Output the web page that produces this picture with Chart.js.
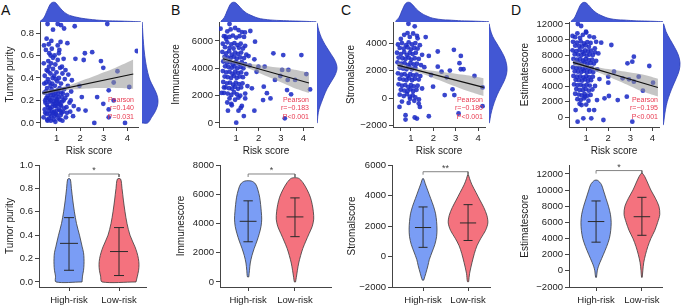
<!DOCTYPE html>
<html>
<head>
<meta charset="utf-8">
<script src="https://cdn.jsdelivr.net/npm/chart.js@4.4.0/dist/chart.umd.min.js"></script>
<style>
  html, body { margin: 0; padding: 0; background: #fff; }
  #fig { position: relative; width: 681px; height: 308px; overflow: hidden; font-family: "Liberation Sans", Arial, sans-serif; }
  #fig canvas { position: absolute; }
  .tag { position: absolute; font-size: 14px; line-height: 14px; color: #111; }
</style>
</head>
<body>
<div id="fig"></div>
<script>
// ---- data ----
const panelTags = ['A', 'B', 'C', 'D'];
const scoreNames = ['Tumor purity', 'Immunescore', 'Stromalscore', 'Estimatescore'];
const groups = ['High-risk', 'Low-risk'];
const pearsonR = ['r=0.140', 'r=\u22120.183', 'r=\u22120.180', 'r=\u22120.195'];
const pearsonP = ['P=0.031', 'P<0.001', 'P<0.001', 'P<0.001'];

const xTicks = [1, 2, 3, 4];
const scatterTicks = [
  [0, 0.2, 0.4, 0.6, 0.8],
  [0, 2000, 4000, 6000],
  [-2000, 0, 2000, 4000],
  [0, 2000, 4000, 6000, 8000, 10000, 12000]
];
const violinTicks = [
  [0, 0.2, 0.4, 0.6, 0.8, 1.0],
  [0, 2000, 4000, 6000, 8000],
  [-2000, 0, 2000, 4000, 6000],
  [-2000, 0, 2000, 4000, 6000, 8000, 10000, 12000]
];

// risk score vs score, [x, y]
const ptsA = [
  [0.45,0.05],[0.5,0.12],[0.52,0.2],[0.55,0.28],[0.48,0.35],[0.5,0.42],[0.46,0.53],[0.58,0.08],[0.6,0.16],[0.62,0.24],
  [0.6,0.31],[0.63,0.39],[0.58,0.47],[0.65,0.55],[0.62,0.02],[0.68,0.11],[0.7,0.19],[0.72,0.27],[0.7,0.36],[0.74,0.44],
  [0.68,0.5],[0.75,0.6],[0.78,0.06],[0.8,0.14],[0.82,0.22],[0.79,0.3],[0.83,0.4],[0.85,0.48],[0.8,0.66],[0.88,0.03],
  [0.9,0.1],[0.92,0.17],[0.88,0.25],[0.93,0.33],[0.9,0.42],[0.95,0.52],[0.92,0.6],[0.97,0.08],[1.0,0.15],[1.02,0.21],
  [0.98,0.28],[1.03,0.37],[1.0,0.45],[1.05,0.56],[1.08,0.04],[1.1,0.12],[1.12,0.19],[1.07,0.26],[1.13,0.31],[1.1,0.4],
  [1.15,0.49],[1.12,0.65],[1.18,0.07],[1.2,0.15],[1.22,0.23],[1.19,0.35],[1.25,0.44],[1.28,0.1],[1.3,0.2],[1.32,0.3],
  [1.35,0.39],[1.3,0.57],[1.4,0.05],[1.42,0.14],[1.45,0.25],[1.48,0.33],[1.5,0.43],[1.55,0.18],[1.58,0.1],[1.62,0.28],
  [1.65,0.38],[1.7,0.06],[0.55,0.65],[0.67,0.7],[0.85,0.58],[1.17,0.72],[0.76,0.02],[0.95,0.01],[1.25,0.02],[0.53,0.18],
  [0.73,0.13],[0.86,0.09],[0.98,0.2],[1.05,0.29],[1.16,0.11],[0.66,0.22],[0.82,0.35],[0.94,0.15],[1.08,0.17],[0.6,0.03],
  [0.71,0.08],[0.89,0.19],[1.02,0.07],[1.2,0.27],
  [0.52,0.09],[0.57,0.22],[0.64,0.14],[0.69,0.04],[0.74,0.2],[0.77,0.25],[0.81,0.1],[0.84,0.17],[0.87,0.28],[0.91,0.06],
  [0.96,0.24],[1.01,0.11],[1.04,0.18],[1.09,0.23],[1.14,0.03],[1.17,0.16],[1.21,0.09],[1.24,0.19],[1.27,0.26],[1.33,0.13],
  [1.37,0.22],[1.44,0.09],[0.56,0.36],[0.64,0.46],[0.77,0.53],[0.96,0.39],[1.23,0.5],[1.38,0.47],[0.49,0.27],[0.75,0.33],
  [0.62,0.88],[1.05,0.88],[1.19,0.87],[1.77,0.86],[3.15,0.88],[0.85,0.83],[1.32,0.84],[0.58,0.75],[0.78,0.73],[1.46,0.71],
  [0.47,0.69],[1.05,0.69],[0.69,0.62],[1.1,0.62],[2.2,0.62],[2.51,0.63],[4.4,0.64],[1.8,0.57],[2.15,0.56],[2.88,0.55],
  [2.98,0.49],[3.58,0.46],[3.42,0.36],[3.21,0.29],[4.08,0.32],[1.97,0.33],[2.07,0.23],[2.72,0.23],[2.23,0.11],[2.6,0.0],
  [2.98,0.17],[3.21,0.12],[3.42,0.2],[3.9,0.0],[3.21,0.05],[1.93,0.12],[1.6,0.2],[1.73,0.15]
];
const ptsB = [
  [0.75,6850],[0.95,6950],[1.1,6800],[0.6,6700],[1.25,6650],[0.45,6350],[0.7,6300],[0.85,6400],[1.0,6250],[1.15,6350],
  [1.35,6300],[0.55,6150],[0.4,5800],[0.6,5900],[0.78,5750],[0.92,5850],[1.05,5700],[1.2,5800],[1.4,5650],[0.5,5550],
  [0.7,5500],[0.88,5450],[1.12,5500],[1.3,5450],[0.38,5200],[0.55,5100],[0.68,5250],[0.8,5000],[0.95,5150],[1.08,5050],
  [1.22,5150],[1.45,5000],[0.48,4850],[0.62,4800],[0.75,4750],[0.9,4850],[1.02,4700],[1.18,4800],[1.35,4750],[1.55,4900],
  [0.42,4500],[0.58,4400],[0.72,4450],[0.85,4300],[0.97,4450],[1.1,4350],[1.25,4450],[1.4,4300],[0.5,4150],[0.65,4100],
  [0.8,4050],[0.92,4150],[1.05,4000],[1.2,4100],[1.32,4000],[1.6,4200],[0.4,3800],[0.55,3700],[0.7,3750],[0.83,3600],
  [0.95,3750],[1.08,3650],[1.22,3700],[1.45,3600],[0.48,3400],[0.62,3350],[0.77,3300],[0.9,3450],[1.02,3300],[1.15,3400],
  [1.3,3350],[0.42,3000],[0.58,2900],[0.72,2950],[0.86,2800],[0.98,2950],[1.12,2850],[1.28,2900],[0.52,2600],[0.68,2550],
  [0.82,2500],[0.95,2650],[1.08,2500],[1.22,2600],[1.5,2700],[0.45,2200],[0.62,2150],[0.78,2050],[0.9,2250],[1.03,2100],
  [1.18,2000],[1.4,2150],[0.7,1800],[0.95,1700],[1.1,1850],[0.8,1300],[1.25,1250],[0.6,1500],
  [1.0,20],[0.63,900],[1.1,900],[1.2,1100],[1.34,510],[1.81,900],[1.7,2540],[1.4,1800],[2.2,1680],[2.23,2660],
  [2.53,1800],[1.91,3750],[1.84,5950],[1.39,6630],[1.63,6730],[1.81,4660],[1.99,4120],[2.27,4120],[2.66,5100],[3.1,4970],
  [3.91,4970],[3.05,3880],[3.33,3880],[4.13,3580],[4.3,2460],[3.63,3150],[3.3,3150],[2.73,3150],[2.97,3440],[3.27,2410],
  [3.45,2100],[3.17,340],[2.37,2180],[0.53,6310],[0.7,7240],[0.3,6900],[0.35,2200],[0.45,2600],[0.78,1400]
];
const ptsC = [
  [0.7,4600],[0.95,4450],[1.1,4700],[0.55,4300],[1.3,4350],[0.42,3900],[0.6,4000],[0.78,3850],[0.9,4050],[1.05,3900],
  [1.2,4000],[1.4,3850],[0.5,3650],[0.68,3600],[0.85,3700],[1.0,3550],[1.15,3650],[1.3,3600],[0.38,3300],[0.55,3200],
  [0.7,3350],[0.82,3150],[0.95,3300],[1.08,3200],[1.22,3300],[1.5,3150],[0.45,2950],[0.62,2900],[0.76,2850],[0.9,2950],
  [1.02,2800],[1.17,2900],[1.35,2850],[0.4,2600],[0.57,2500],[0.72,2550],[0.86,2400],[0.98,2550],[1.12,2450],[1.27,2500],
  [1.45,2400],[0.5,2200],[0.65,2150],[0.8,2100],[0.93,2250],[1.05,2100],[1.2,2200],[1.6,2250],[0.42,1800],[0.58,1700],
  [0.72,1750],[0.85,1600],[0.97,1750],[1.1,1650],[1.25,1700],[1.42,1600],[0.5,1400],[0.66,1350],[0.8,1300],[0.92,1450],
  [1.05,1300],[1.18,1400],[1.35,1350],[0.45,1000],[0.6,900],[0.75,950],[0.88,800],[1.0,950],[1.13,850],[1.3,900],
  [0.55,600],[0.7,550],[0.85,500],[0.98,650],[1.1,500],[1.25,600],[1.5,700],[0.5,250],[0.68,150],[0.82,300],
  [0.95,100],[1.08,200],[1.2,50],[0.6,-250],[0.9,-350],[1.15,-200],[1.35,-400],
  [0.89,5410],[1.17,5220],[0.85,4730],[1.27,4530],[1.66,4440],[2.2,3390],[1.8,3070],[2.92,3510],[3.23,3070],[3.17,2540],
  [3.35,2100],[3.23,2100],[2.74,2000],[2.2,2290],[2.37,1920],[1.9,1680],[1.99,830],[2.6,1510],[2.86,640],[2.51,220],
  [2.94,220],[3.84,1610],[4.2,780],[4.2,-585],[3.13,-1120],[0.49,-640],[1.17,-1410],[0.76,-1560],[1.27,-1490],[0.76,-1240],
  [1.4,-640],[1.8,-1320],[1.36,-100],[0.96,-50]
];
const ptsD = [
  [0.6,10800],[0.85,10600],[1.0,10900],[0.5,10300],[1.15,10400],[0.72,10200],[0.4,9700],[0.58,9600],[0.75,9750],[0.9,9500],
  [1.05,9650],[1.2,9550],[1.45,9700],[0.5,9200],[0.68,9150],[0.82,9100],[0.97,9250],[1.12,9050],[0.38,8600],[0.55,8500],
  [0.7,8650],[0.83,8400],[0.95,8600],[1.08,8450],[1.22,8550],[1.4,8350],[0.48,8100],[0.63,8050],[0.78,7950],[0.9,8150],
  [1.02,7900],[1.15,8050],[1.3,8000],[1.55,8200],[0.42,7500],[0.58,7400],[0.72,7450],[0.86,7300],[0.98,7450],[1.12,7350],
  [1.27,7400],[1.45,7250],[0.5,7000],[0.65,6950],[0.8,6900],[0.93,7050],[1.05,6850],[1.2,6950],[1.35,6900],[0.4,6400],
  [0.56,6300],[0.7,6350],[0.84,6200],[0.96,6350],[1.1,6250],[1.25,6300],[1.5,6150],[0.48,5900],[0.63,5850],[0.78,5800],
  [0.9,5950],[1.03,5750],[1.17,5850],[1.32,5800],[0.42,5300],[0.58,5200],[0.73,5250],[0.87,5100],[1.0,5250],[1.13,5150],
  [1.3,5200],[0.52,4800],[0.67,4750],[0.82,4700],[0.95,4850],[1.08,4650],[1.22,4750],[1.6,4900],[0.45,4200],[0.6,4100],
  [0.75,4150],[0.88,4000],[1.02,4150],[1.16,4050],[1.4,4000],[0.55,3600],[0.7,3500],[0.85,3450],[0.98,3600],[1.12,3400],
  [1.28,3550],[0.5,3000],[0.66,2900],[0.8,2800],[0.93,2950],[1.06,2750],[1.2,2850],[0.6,2300],[0.75,2200],[0.9,2400],
  [1.1,2100],[0.7,1700],[1.0,1600],
  [0.62,12000],[0.77,11740],[0.99,11000],[0.38,10450],[1.35,10280],[1.68,9590],[2.14,9290],[1.39,8860],[3.09,7140],[2.87,6930],
  [3.16,7780],[3.86,6580],[2.26,5850],[2.0,5200],[2.0,4430],[2.65,4990],[2.94,4860],[3.16,4560],[3.38,5200],[3.57,3400],
  [4.03,4430],[2.84,2620],[2.43,2190],[1.83,2410],[2.03,2710],[1.49,2190],[1.36,900],[1.13,900],[0.87,-170],[1.23,-170],
  [1.78,-390],[0.61,-600],[3.09,-600],[0.52,900],[0.79,1550],[0.95,2620]
];
const scatterPts = [ptsA, ptsB, ptsC, ptsD];

// linear fit and its confidence band
const fitX = [0.4, 4.25];
const fitY = [[0.265, 0.435], [4700, 2930], [2400, 780], [7050, 3800]];
const bandX = [0.4, 1.0, 1.5, 2.0, 2.5, 3.0, 3.5, 4.25];
const bandLo = [
  [0.245, 0.277, 0.294, 0.301, 0.308, 0.31, 0.312, 0.305],
  [4480, 4294, 4024, 3684, 3334, 2974, 2624, 2190],
  [2180, 2017, 1767, 1466, 1156, 845, 535, 150],
  [6650, 6314, 5822, 5220, 4598, 3975, 3353, 2650]
];
const bandHi = [
  [0.285, 0.307, 0.334, 0.371, 0.408, 0.45, 0.492, 0.565],
  [4920, 4554, 4364, 4244, 4134, 4034, 3924, 3670],
  [2620, 2277, 2107, 1986, 1876, 1765, 1655, 1450],
  [7450, 6774, 6422, 6180, 5958, 5735, 5513, 4950]
];

// marginal densities (relative heights)
const topX = [0.3, 0.45, 0.6, 0.75, 0.9, 1.05, 1.2, 1.4, 1.6, 1.8, 2.0, 2.3, 2.6, 3.0, 3.5, 4.0, 4.4];
const topDens = [
  [0.03, 0.2, 0.6, 0.95, 1.0, 0.82, 0.6, 0.4, 0.3, 0.24, 0.19, 0.14, 0.1, 0.07, 0.05, 0.03, 0.01],
  [0.03, 0.22, 0.62, 0.95, 1.0, 0.86, 0.66, 0.46, 0.34, 0.24, 0.17, 0.12, 0.09, 0.07, 0.05, 0.03, 0.01],
  [0.03, 0.22, 0.62, 0.95, 1.0, 0.86, 0.66, 0.46, 0.33, 0.23, 0.17, 0.12, 0.1, 0.07, 0.05, 0.03, 0.01],
  [0.03, 0.2, 0.58, 0.92, 1.0, 0.88, 0.68, 0.47, 0.34, 0.24, 0.17, 0.12, 0.1, 0.07, 0.05, 0.03, 0.01]
];
const sideY = [
  [0, 0.05, 0.1, 0.15, 0.2, 0.25, 0.3, 0.35, 0.4, 0.5, 0.6, 0.7, 0.8, 0.9],
  [0, 500, 1000, 1500, 2000, 2500, 3000, 3500, 4000, 4500, 5000, 5500, 6000, 6500, 7000, 7300],
  [-1800, -1200, -600, 0, 500, 1000, 1500, 2000, 2500, 3000, 3500, 4000, 4500, 5000, 5400],
  [-1000, 0, 1000, 2000, 3000, 4000, 5000, 6000, 7000, 8000, 9000, 10000, 11000, 12000]
];
const sideDens = [
  [0.35, 0.6, 0.82, 0.96, 1.0, 0.93, 0.78, 0.6, 0.45, 0.28, 0.17, 0.1, 0.05, 0.01],
  [0.01, 0.04, 0.1, 0.22, 0.35, 0.5, 0.7, 0.9, 1.0, 0.92, 0.72, 0.5, 0.3, 0.15, 0.05, 0.01],
  [0.02, 0.1, 0.22, 0.38, 0.55, 0.75, 0.92, 1.0, 0.97, 0.85, 0.65, 0.42, 0.2, 0.07, 0.01],
  [0.02, 0.08, 0.15, 0.25, 0.4, 0.58, 0.78, 0.95, 1.0, 0.9, 0.68, 0.42, 0.18, 0.04]
];

// violins: value levels, relative half-widths, max half-width (category units)
const vioY = [
  [[0, 0.05, 0.1, 0.15, 0.2, 0.25, 0.3, 0.4, 0.5, 0.6, 0.7, 0.8, 0.88],
   [0, 0.05, 0.1, 0.15, 0.2, 0.25, 0.3, 0.4, 0.5, 0.6, 0.7, 0.8, 0.88]],
  [[350, 800, 1300, 1800, 2300, 2800, 3300, 3800, 4300, 4800, 5300, 5800, 6300, 6700, 6900],
   [0, 300, 800, 1300, 1800, 2300, 2800, 3300, 3800, 4300, 4800, 5300, 5800, 6300, 6800, 7100]],
  [[-1550, -1100, -600, -200, 300, 800, 1300, 1800, 2300, 2800, 3300, 3800, 4300, 4800, 5100],
   [-1650, -1100, -400, 200, 700, 1200, 1700, 2200, 2700, 3200, 3700, 4200, 4700, 5100, 5350]],
  [[-800, 0, 500, 1000, 2000, 3000, 4000, 5000, 6000, 7000, 8000, 9000, 10000, 10700, 11200],
   [-800, 0, 1000, 2000, 3000, 4000, 5000, 6000, 7000, 8000, 9000, 10000, 11000, 11700, 12100]]
];
const vioW = [
  [[0.87, 0.9, 0.97, 1.0, 1.0, 0.97, 0.88, 0.7, 0.5, 0.36, 0.25, 0.16, 0.08],
   [0.85, 0.92, 0.98, 1.0, 0.97, 0.9, 0.8, 0.55, 0.4, 0.3, 0.22, 0.15, 0.08]],
  [[0.05, 0.1, 0.16, 0.28, 0.45, 0.65, 0.82, 0.95, 1.0, 0.97, 0.92, 0.85, 0.72, 0.55, 0.25],
   [0.03, 0.07, 0.13, 0.2, 0.3, 0.42, 0.58, 0.75, 0.92, 1.0, 0.98, 0.92, 0.82, 0.65, 0.42, 0.18]],
  [[0.05, 0.2, 0.35, 0.45, 0.65, 0.85, 0.97, 1.0, 0.97, 0.9, 0.75, 0.55, 0.35, 0.15, 0.04],
   [0.03, 0.08, 0.2, 0.32, 0.45, 0.65, 0.88, 1.0, 0.95, 0.8, 0.6, 0.4, 0.2, 0.08, 0.02]],
  [[0.03, 0.08, 0.15, 0.25, 0.48, 0.7, 0.88, 0.97, 1.0, 0.95, 0.82, 0.65, 0.48, 0.35, 0.1],
   [0.02, 0.05, 0.1, 0.2, 0.33, 0.5, 0.72, 0.88, 1.0, 0.95, 0.75, 0.5, 0.3, 0.15, 0.02]]
];
const vioHalf = [[0.3, 0.4], [0.29, 0.4], [0.31, 0.44], [0.33, 0.39]];
const vioMean = [[0.33, 0.26], [4150, 4450], [1900, 2200], [6100, 6700]];
const vioLo = [[0.10, 0.055], [2750, 3100], [600, 1050], [3550, 4400]];
const vioHi = [[0.55, 0.465], [5550, 5750], [3250, 3400], [8650, 9100]];
const bracketY = [0.923, 7385, 5560, 12410];
const bracketStars = ['*', '*', '**', '*'];

// ---- layout (pixels) and axis ranges ----
const geo = [
  { sLeft: 0,   L: 40,  R: 142, xMin: 0.3,  xMax: 4.45, yMin: -0.036, yMax: 0.898, rW: 20, rPeak: 16, pdx: 4,
    vLeft: 0,   vL: 39,  vR: 147, vxMin: 0.4,  vxMax: 2.56, vyMin: -0.043, vyMax: 1.0 },
  { sLeft: 166, L: 219, R: 317, xMin: 0.23, xMax: 4.43, yMin: -293, yMax: 7390, rW: 24, rPeak: 20, pdx: 4,
    vLeft: 171, vL: 220, vR: 332, vxMin: 0.4,  vxMax: 2.79, vyMin: -342, vyMax: 8000 },
  { sLeft: 341, L: 393, R: 489, xMin: 0.2,  xMax: 4.31, yMin: -2100, yMax: 5536, rW: 22, rPeak: 18, pdx: 2,
    vLeft: 342, vL: 392, vR: 491, vxMin: 0.31, vxMax: 2.51, vyMin: -2000, vyMax: 6000 },
  { sLeft: 515, L: 569, R: 663, xMin: 0.22, xMax: 4.3,  yMin: -1290, yMax: 12258, rW: 18, rPeak: 17, pdx: 1,
    vLeft: 515, vL: 569, vR: 663, vxMin: 0.41, vxMax: 2.46, vyMin: -2000, vyMax: 13100 }
];
const SC_TOP = 22, SC_BOTTOM = 127, SC_H = 160;
const VI_TOP = 150, VI_H = 158, VI_AREA_TOP = 165, VI_AREA_BOTTOM = 287;

const dotColor = 'rgba(30, 44, 198, 0.88)';
const densFill = '#4257d4';
const densLine = '#2c3cb4';
const vioColors = ['#7a9df5', '#f4727e'];
const axisColor = '#444';

Chart.defaults.font.family = '"Liberation Sans", Arial, Helvetica, sans-serif';
Chart.defaults.color = '#222';
Chart.defaults.animation = false;

const fig = document.getElementById('fig');

function addCanvas(left, top, w, h, z) {
  const c = document.createElement('canvas');
  c.width = w;
  c.height = h;
  c.style.left = left + 'px';
  c.style.top = top + 'px';
  c.style.width = w + 'px';
  c.style.height = h + 'px';
  c.style.zIndex = z;
  fig.appendChild(c);
  return c;
}

// pin axis box size so chart areas line up between canvases
function fixBox(size) {
  return function(scale) {
    if (scale.isHorizontal()) scale.height = size; else scale.width = size;
    scale.paddingLeft = 0; scale.paddingRight = 0;
    scale.paddingTop = 0; scale.paddingBottom = 0;
  };
}
function useTicks(values) {
  return function(scale) { scale.ticks = values.map(v => ({ value: v })); };
}
function fmt(v) { return v < 0 ? '\u2212' + Math.abs(v) : String(v); }

function axisCfg(min, max, ticks, label, size, tickPad, title, titlePad) {
  return {
    type: 'linear', min: min, max: max,
    afterBuildTicks: useTicks(ticks),
    afterFit: fixBox(size),
    ticks: { autoSkip: false, maxRotation: 0, minRotation: 0, padding: tickPad,
             font: { size: 9.5 }, color: '#222', callback: label },
    grid: { drawOnChartArea: false, drawTicks: true, tickLength: 4, color: axisColor, lineWidth: 1 },
    border: { display: true, color: axisColor, width: 1 },
    title: title ? { display: true, text: title, font: { size: 10 }, color: '#222', padding: titlePad }
                 : { display: false }
  };
}

const hidden = (min, max) => ({ type: 'linear', display: false, min: min, max: max });

const pearsonPlugin = {
  id: 'pearson',
  afterDatasetsDraw(chart, args, opts) {
    const { ctx, chartArea } = chart;
    ctx.save();
    ctx.font = '7px "Liberation Sans", Arial, sans-serif';
    ctx.fillStyle = '#e8384f';
    ctx.textAlign = 'right';
    ctx.textBaseline = 'middle';
    opts.lines.forEach((t, k) => ctx.fillText(t, chartArea.right - opts.dx, chartArea.bottom - 27 + k * 8.5));
    ctx.restore();
  }
};

const starPlugin = {
  id: 'stars',
  afterDatasetsDraw(chart, args, opts) {
    const { ctx, scales } = chart;
    ctx.save();
    ctx.font = '9px "Liberation Sans", Arial, sans-serif';
    ctx.fillStyle = '#444';
    ctx.textAlign = 'center';
    ctx.textBaseline = 'bottom';
    ctx.fillText(opts.text, scales.x.getPixelForValue(1.5), scales.y.getPixelForValue(opts.y) + 1);
    ctx.restore();
  }
};

const baseOpts = {
  responsive: false,
  animation: false,
  events: [],
  plugins: { legend: { display: false }, tooltip: { enabled: false } }
};

function line(data, color, width, extra) {
  return Object.assign({ data: data, showLine: true, borderColor: color, borderWidth: width,
                         pointRadius: 0, fill: false, tension: 0, order: 0 }, extra || {});
}

function drawScatter(i) {
  const g = geo[i];
  const canvas = addCanvas(g.sLeft, 0, g.R - g.sLeft, SC_H, 1);
  const yLabel = i === 0 ? (v => v.toFixed(1)) : fmt;
  new Chart(canvas, {
    type: 'scatter',
    data: {
      datasets: [
        line(fitX.map((x, k) => ({ x: x, y: fitY[i][k] })), '#111', 1.1, { order: 0 }),
        line(bandX.map((x, k) => ({ x: x, y: bandHi[i][k] })), 'rgba(0,0,0,0)', 0,
             { fill: '+1', backgroundColor: 'rgba(150,150,150,0.55)', tension: 0.4, order: 1 }),
        line(bandX.map((x, k) => ({ x: x, y: bandLo[i][k] })), 'rgba(0,0,0,0)', 0, { tension: 0.4, order: 1 }),
        { data: scatterPts[i].map(p => ({ x: p[0], y: p[1] })), pointRadius: 2.4, pointBorderWidth: 0,
          pointBackgroundColor: dotColor, order: 2 }
      ]
    },
    options: Object.assign({}, baseOpts, {
      layout: { padding: { top: SC_TOP, left: 0, right: 0, bottom: 0 } },
      plugins: Object.assign({}, baseOpts.plugins, {
        pearson: { lines: ['Pearson', pearsonR[i], pearsonP[i]], dx: g.pdx }
      }),
      scales: {
        x: axisCfg(g.xMin, g.xMax, xTicks, v => String(v), SC_H - SC_BOTTOM, 2, 'Risk score', { top: 0, bottom: 3 }),
        y: axisCfg(g.yMin, g.yMax, scatterTicks[i], yLabel, g.L - g.sLeft, 2, scoreNames[i], { top: 4, bottom: 0 })
      }
    }),
    plugins: [pearsonPlugin]
  });

  // density of risk score on top
  const top = addCanvas(g.L, 0, g.R - g.L, SC_TOP, 2);
  new Chart(top, {
    type: 'scatter',
    data: { datasets: [
      line(topX.map((x, k) => ({ x: x, y: topDens[i][k] })), densLine, 0.8,
           { fill: 'origin', backgroundColor: densFill, tension: 0.4 })
    ] },
    options: Object.assign({}, baseOpts, { scales: { x: hidden(g.xMin, g.xMax), y: hidden(0, 1.12) } })
  });

  // density of the score on the right
  const side = addCanvas(g.R, SC_TOP, g.rW, SC_BOTTOM - SC_TOP, 2);
  const ys = sideY[i];
  const pts = [{ x: 0, y: ys[0] }]
    .concat(ys.map((y, k) => ({ x: sideDens[i][k], y: y })))
    .concat([{ x: 0, y: ys[ys.length - 1] }]);
  new Chart(side, {
    type: 'scatter',
    data: { datasets: [ line(pts, densLine, 0.8, { fill: 'shape', backgroundColor: densFill, tension: 0.35 }) ] },
    options: Object.assign({}, baseOpts, { scales: { x: hidden(0, g.rW / g.rPeak), y: hidden(g.yMin, g.yMax) } })
  });
}

function drawViolin(i) {
  const g = geo[i];
  const canvas = addCanvas(g.vLeft, VI_TOP, g.vR - g.vLeft, VI_H, 1);
  const sets = [];
  [0, 1].forEach(k => {
    const c = k + 1, half = vioHalf[i][k], ys = vioY[i][k], ws = vioW[i][k];
    const right = ys.map((y, j) => ({ x: c + ws[j] * half, y: y }));
    const left = ys.map((y, j) => ({ x: c - ws[j] * half, y: y })).reverse();
    const outline = right.concat(left, [right[0]]);
    // violin body goes underneath the mean / sd marks
    sets.push(line(outline, '#3a3a3a', 0.8, { fill: 'shape', backgroundColor: vioColors[k], tension: 0.3, order: 5 }));
    const m = vioMean[i][k], lo = vioLo[i][k], hi = vioHi[i][k];
    sets.push(line([{ x: c, y: lo }, { x: c, y: hi }], '#2a2a2a', 1));
    sets.push(line([{ x: c - 0.1, y: lo }, { x: c + 0.1, y: lo }], '#2a2a2a', 1));
    sets.push(line([{ x: c - 0.1, y: hi }, { x: c + 0.1, y: hi }], '#2a2a2a', 1));
    sets.push(line([{ x: c - 0.18, y: m }, { x: c + 0.18, y: m }], '#2a2a2a', 1));
  });
  const drop = (g.vyMax - g.vyMin) * 3 / (VI_AREA_BOTTOM - VI_AREA_TOP);
  const by = bracketY[i];
  sets.push(line([{ x: 1, y: by - drop }, { x: 1, y: by }, { x: 2, y: by }, { x: 2, y: by - drop }], '#666', 0.8));

  const yLabel = i === 0 ? (v => v.toFixed(1)) : fmt;
  new Chart(canvas, {
    type: 'scatter',
    data: { datasets: sets },
    options: Object.assign({}, baseOpts, {
      layout: { padding: { top: VI_AREA_TOP - VI_TOP, left: 0, right: 0, bottom: 0 } },
      plugins: Object.assign({}, baseOpts.plugins, { stars: { text: bracketStars[i], y: by } }),
      scales: {
        x: axisCfg(g.vxMin, g.vxMax, [1, 2], v => groups[v - 1], VI_TOP + VI_H - VI_AREA_BOTTOM, 4, null, null),
        y: axisCfg(g.vyMin, g.vyMax, violinTicks[i], yLabel, g.vL - g.vLeft, 2, scoreNames[i], { top: 4, bottom: 0 })
      }
    }),
    plugins: [starPlugin]
  });
}

for (let i = 0; i < 4; i++) {
  drawScatter(i);
  drawViolin(i);
  const tag = document.createElement('div');
  tag.className = 'tag';
  tag.textContent = panelTags[i];
  tag.style.left = [1, 171, 341, 511][i] + 'px';
  tag.style.top = '3px';
  fig.appendChild(tag);
}
</script>
</body>
</html>
